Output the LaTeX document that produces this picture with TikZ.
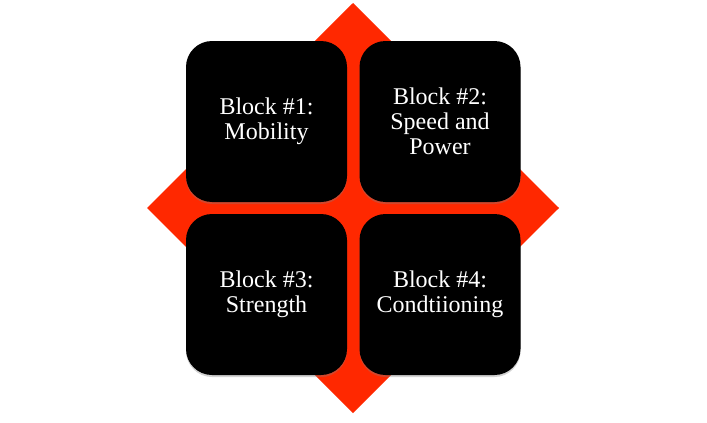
\documentclass[tikz,border=0pt]{standalone}
\usepackage{fontspec}
\setmainfont{Liberation Serif}
\usetikzlibrary{shadows}
\definecolor{dred}{RGB}{255,40,0}
\tikzset{
  blk/.style={fill=black, rounded corners=26pt, minimum width=161pt, minimum height=161pt,
    inner sep=0pt, text=white, align=center, font=\fontsize{24}{25}\selectfont,
    drop shadow={opacity=0.35, shadow xshift=0pt, shadow yshift=-2pt}},
}
\begin{document}
\begin{tikzpicture}[x=1pt,y=-1pt]
\useasboundingbox[fill=white] (0,0) rectangle (707,423);
\fill[dred] (353,3) -- (559,208) -- (353,413) -- (147,208) -- cycle;
\node[blk] (b1) at (266.5,121.5) {Block \#1:\\Mobility};
\node[blk] (b2) at (440,121.5) {Block \#2:\\Speed and\\Power};
\node[blk] (b3) at (266.5,294.5) {Block \#3:\\Strength};
\node[blk] (b4) at (440,294.5) {Block \#4:\\Condtiioning};
\end{tikzpicture}
\end{document}
